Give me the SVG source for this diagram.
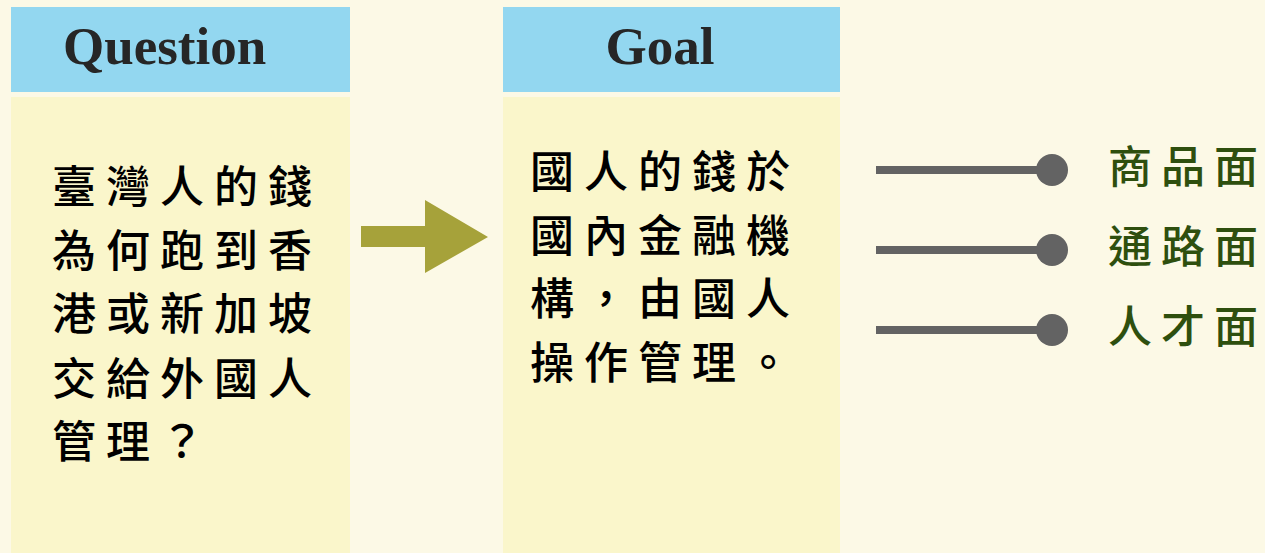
<svg xmlns="http://www.w3.org/2000/svg" width="1265" height="553" viewBox="0 0 1265 553">
<style>
.hdr{fill:#93d7f0}
.body{fill:#faf6cb}
.title{font-family:"Liberation Serif",serif;font-weight:bold;font-size:53px;fill:#262626}
.zh{font-family:"Noto Sans CJK TC",sans-serif;font-weight:500;font-size:44px;fill:#000;letter-spacing:10px}
.lbl{font-family:"Noto Sans CJK TC",sans-serif;font-weight:500;font-size:44px;fill:#2e4f0e;letter-spacing:9px}
.ln{stroke:#636363;stroke-width:8}
.dot{fill:#636363}
</style>
<rect width="1265" height="553" fill="#fcf9e6"/>
<g id="question">
<rect class="hdr" x="11" y="7" width="339" height="85"/>
<rect class="body" x="11" y="97" width="339" height="456"/>
<text class="title" x="63" y="64">Question</text>
<text class="zh" x="52" y="203">臺灣人的錢</text>
<text class="zh" x="52" y="267">為何跑到香</text>
<text class="zh" x="52" y="330">港或新加坡</text>
<text class="zh" x="52" y="395">交給外國人</text>
<text class="zh" x="52" y="458">管理？</text>
</g>
<g id="goal">
<rect class="hdr" x="503" y="7" width="337" height="85"/>
<rect class="body" x="503" y="97" width="337" height="456"/>
<text class="title" x="660" y="64" text-anchor="middle">Goal</text>
<text class="zh" x="530" y="188">國人的錢於</text>
<text class="zh" x="530" y="252">國內金融機</text>
<text class="zh" x="530" y="315">構，由國人</text>
<text class="zh" x="530" y="379">操作管理。</text>
</g>
<g id="connectors">
<polygon fill="#a6a23a" points="361,226 425,226 425,200 488,237 425,273 425,247 361,247"/>
<line class="ln" x1="876" y1="170" x2="1050" y2="170"/>
<circle class="dot" cx="1052" cy="170" r="16"/>
<line class="ln" x1="876" y1="250" x2="1050" y2="250"/>
<circle class="dot" cx="1052" cy="250" r="16"/>
<line class="ln" x1="876" y1="330" x2="1050" y2="330"/>
<circle class="dot" cx="1052" cy="330" r="16"/>
</g>
<g id="label-product"><text class="lbl" x="1108" y="183">商品面</text></g>
<g id="label-channel"><text class="lbl" x="1108" y="263">通路面</text></g>
<g id="label-talent"><text class="lbl" x="1108" y="343">人才面</text></g>
</svg>
